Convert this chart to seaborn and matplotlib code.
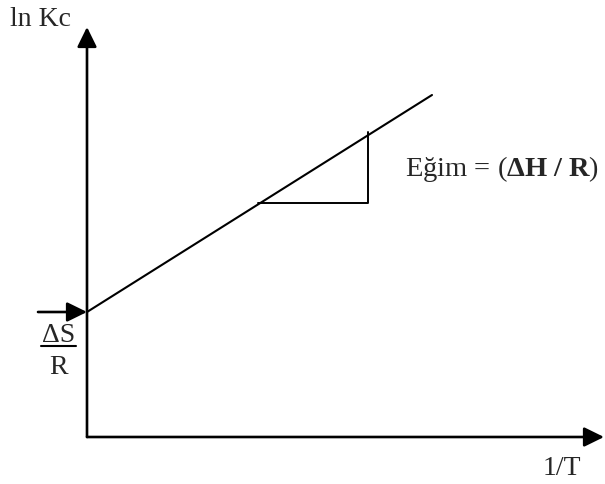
import matplotlib
matplotlib.use("Agg")
import matplotlib.pyplot as plt
import seaborn as sns
import pandas as pd

# van't Hoff plot: ln Kc vs 1/T (schematic values)
inv_T = [0.0, 3.45]
ln_Kc = [1.25, 3.42]

# slope triangle
tri_x = [1.71, 2.81, 2.81]
tri_y = [2.34, 2.34, 3.05]

x_label = "1/T"
y_label = "ln Kc"
slope_label = "Eğim = ($\\mathbf{ΔH\\ /\\ R}$)"

sns.set_style("white")
plt.rcParams["font.family"] = ["Liberation Serif", "DejaVu Serif"]
plt.rcParams["mathtext.fontset"] = "custom"
plt.rcParams["mathtext.rm"] = "Liberation Serif"
plt.rcParams["mathtext.it"] = "Liberation Serif:italic"
plt.rcParams["mathtext.bf"] = "Liberation Serif:bold"

fig = plt.figure(figsize=(6.05, 4.85), dpi=100)
ax = fig.add_axes([0, 0, 1, 1])
ax.set_xlim(-0.87, 5.18)
ax.set_ylim(-0.47, 4.38)
ax.axis("off")

line_df = pd.DataFrame({"x": inv_T, "y": ln_Kc})
sns.lineplot(data=line_df, x="x", y="y", color="black", lw=1.5, ax=ax,
             sort=False, estimator=None)
tri_df = pd.DataFrame({"x": tri_x, "y": tri_y})
sns.lineplot(data=tri_df, x="x", y="y", color="black", lw=1.4, ax=ax,
             sort=False, estimator=None)

# axes with arrows
arrow = dict(arrowstyle="-|>,head_length=0.55,head_width=0.27", color="black",
             lw=1.9, shrinkA=0, shrinkB=0, mutation_scale=22)
ax.annotate("", xy=(0, 4.10), xytext=(0, 0), arrowprops=arrow)
ax.annotate("", xy=(5.17, 0), xytext=(0, 0), arrowprops=arrow)
# intercept arrow
ax.annotate("", xy=(0, ln_Kc[0]), xytext=(-0.49, ln_Kc[0]), arrowprops=arrow)

ax.text(-0.77, 4.12, y_label, fontsize=20, ha="left", va="baseline")
ax.text(4.56, -0.37, x_label, fontsize=20, ha="left", va="baseline")
ax.text(3.18, 2.62, slope_label, fontsize=20.5, ha="left", va="baseline")

# intercept label ΔS / R as a stacked fraction
ax.text(-0.285, 0.955, "ΔS", fontsize=20, ha="center", va="baseline")
ax.plot([-0.46, -0.11], [0.91, 0.91], color="black", lw=1.5)
ax.text(-0.285, 0.635, "R", fontsize=20, ha="center", va="baseline")

fig.savefig("out.png", dpi=100)
